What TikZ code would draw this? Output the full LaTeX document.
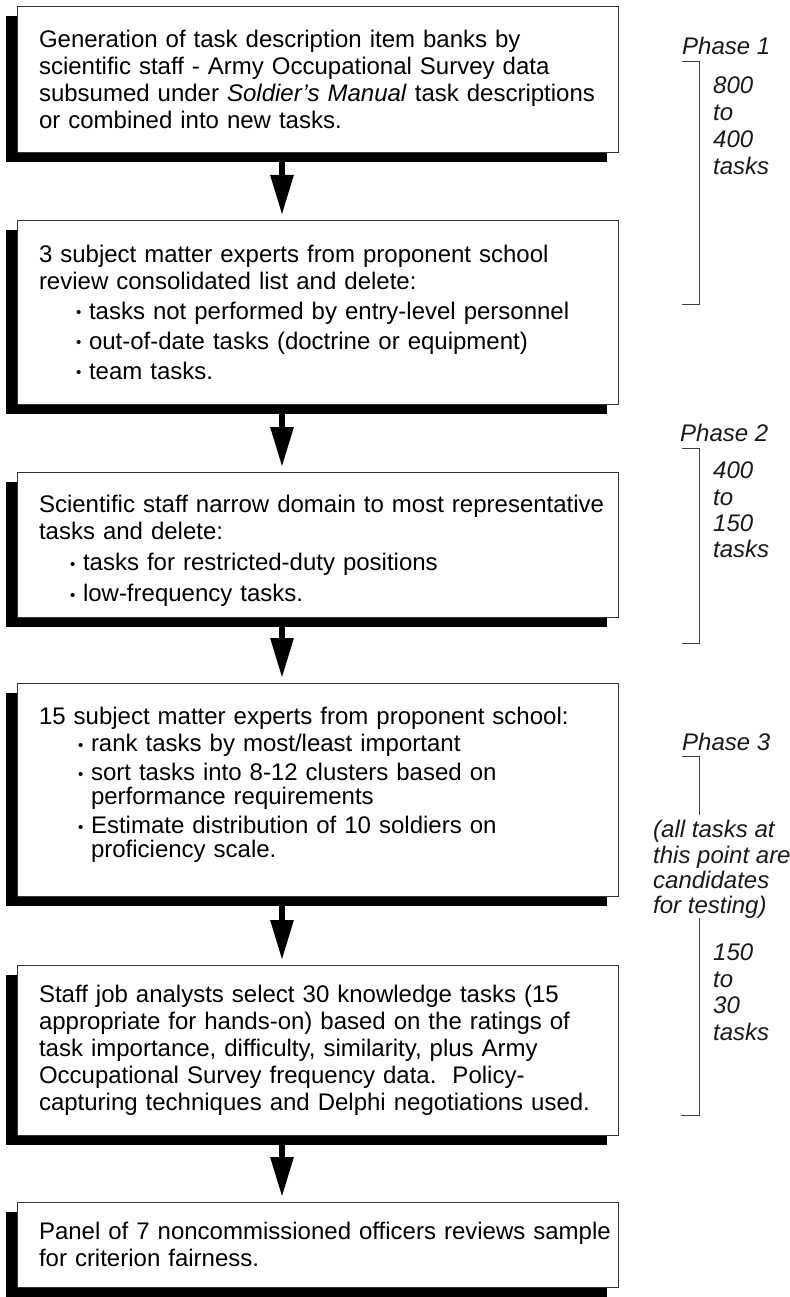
\documentclass[tikz,border=0pt]{standalone}
\usepackage{fontspec}
\setmainfont{Liberation Sans}
\usetikzlibrary{arrows.meta,shadows}
\newcommand{\sbul}{\makebox[13pt][l]{\fontsize{15}{15}\selectfont\raisebox{1.5pt}{•}}}
\newcommand{\bitem}[2]{\mbox{\hspace*{#1}\sbul #2}}
\newcommand{\bcont}[2]{\mbox{\hspace*{#1}\hspace*{13pt}#2}}
\begin{document}
\begin{tikzpicture}[x=1pt,y=-1pt,
  txt/.style={font=\fontsize{24}{27}\selectfont},
  box/.style={txt, draw=black!80, line width=0.9pt, fill=white, rectangle,
    anchor=north west, minimum width=601pt, text width=557pt, inner xsep=22pt,
    inner ysep=0pt, outer sep=0pt, align=left,
    general shadow={fill=black, shadow xshift=-11pt, shadow yshift=-10pt}},
  arr/.style={line width=6pt, -{Triangle[width=22pt,length=40pt]}},
  side/.style={txt, font=\fontsize{24}{27}\selectfont\itshape, anchor=base west, inner sep=0pt, text=black!90},
  brk/.style={line width=1pt, draw=black!75}]
\useasboundingbox (0,0) rectangle (789,1297);

\node[box, minimum height=146pt] (b1) at (17,6) {\mbox{Generation of task description item banks by}\\
\mbox{scientific staff - Army Occupational Survey data}\\
\mbox{subsumed under \textit{Soldier's Manual} task descriptions}\\
\mbox{or combined into new tasks.}};

\node[box, minimum height=184pt] (b2) at (17,220) {\mbox{3 subject matter experts from proponent school}\\
\mbox{review consolidated list and delete:}\\[3pt]
\bitem{37pt}{tasks not performed by entry-level personnel}\\[3pt]
\bitem{37pt}{out-of-date tasks (doctrine or equipment)}\\[3pt]
\bitem{37pt}{team tasks.}};

\node[box, minimum height=145pt] (b3) at (17,472) {\mbox{\rule{0pt}{30pt}Scientific staff narrow domain to most representative}\\
\mbox{tasks and delete:}\\[4pt]
\bitem{31pt}{tasks for restricted-duty positions}\\[4pt]
\bitem{31pt}{low-frequency tasks.}};

\node[box, minimum height=213pt] (b4) at (17,683) {\mbox{15 subject matter experts from proponent school:}\\
\bitem{39pt}{rank tasks by most/least important}\\[2pt]
\bitem{39pt}{sort tasks into 8-12 clusters based on}\\[-3pt]
\bcont{39pt}{performance requirements}\\[2pt]
\bitem{39pt}{Estimate distribution of 10 soldiers on}\\[-3pt]
\bcont{39pt}{proficiency scale.}\rule[-14pt]{0pt}{0pt}};

\node[box, minimum height=170pt] (b5) at (17,965) {\mbox{Staff job analysts select 30 knowledge tasks (15}\\
\mbox{appropriate for hands-on) based on the ratings of}\\
\mbox{task importance, difficulty, similarity, plus Army}\\
\mbox{Occupational Survey frequency data.\ \ Policy-}\\
\mbox{capturing techniques and Delphi negotiations used.}};

\node[box, minimum height=85pt] (b6) at (17,1202) {\mbox{Panel of 7 noncommissioned officers reviews sample}\\
\mbox{for criterion fairness.}};

\foreach \a/\b in {b1/b2,b2/b3,b3/b4,b4/b5,b5/b6}
  \draw[arr] ([xshift=-35.5pt,yshift=-10pt]\a.south) -- ([xshift=-35.5pt,yshift=5pt]\b.north);

% Phase 1
\node[side] (p1) at (682,55) {Phase 1};
\draw[brk] (682,62) -- (699,62) -- (699,304) -- (682,304);
\node[side] (p1a) at (713,94) {800};
\node[side] (p1b) at (713,121) {to};
\node[side] (p1c) at (713,148) {400};
\node[side] (p1d) at (713,175) {tasks};

% Phase 2
\node[side] (p2) at (680,441) {Phase 2};
\draw[brk] (682,448) -- (699,448) -- (699,643) -- (682,643);
\node[side] (p2a) at (713,478) {400};
\node[side] (p2b) at (713,505) {to};
\node[side] (p2c) at (713,531) {150};
\node[side] (p2d) at (713,557) {tasks};

% Phase 3
\node[side] (p3) at (682,750) {Phase 3};
\draw[brk] (682,756) -- (699,756) -- (699,815);
\node[side] (n1) at (653,837) {(all tasks at};
\node[side] (n2) at (653,863) {this point are};
\node[side] (n3) at (653,888) {candidates};
\node[side] (n4) at (653,913) {for testing)};
\draw[brk] (699,918) -- (699,1115) -- (681,1115);
\node[side] (p3a) at (713,960) {150};
\node[side] (p3b) at (713,987) {to};
\node[side] (p3c) at (713,1013) {30};
\node[side] (p3d) at (713,1040) {tasks};
\end{tikzpicture}
\end{document}
